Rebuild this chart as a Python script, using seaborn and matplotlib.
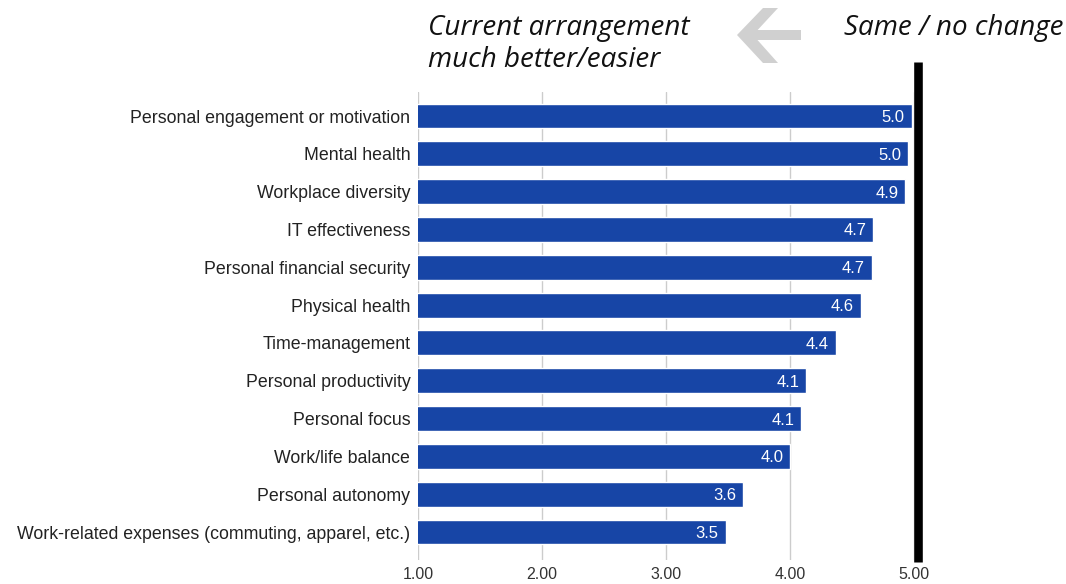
import matplotlib
matplotlib.use("Agg")
import matplotlib.pyplot as plt
import matplotlib.transforms as mtransforms
import seaborn as sns
import pandas as pd
from matplotlib.lines import Line2D
from matplotlib.patches import Polygon

categories = [
    "Personal engagement or motivation",
    "Mental health",
    "Workplace diversity",
    "IT effectiveness",
    "Personal financial security",
    "Physical health",
    "Time-management",
    "Personal productivity",
    "Personal focus",
    "Work/life balance",
    "Personal autonomy",
    "Work-related expenses (commuting, apparel, etc.)",
]
scores = [4.98, 4.95, 4.93, 4.67, 4.66, 4.57, 4.37, 4.13, 4.09, 4.00, 3.62, 3.48]
x_ticks = [1.0, 2.0, 3.0, 4.0, 5.0]

df = pd.DataFrame({"category": categories, "score": scores})

sns.set_theme(style="white")
plt.rcParams["font.family"] = ["Liberation Sans", "DejaVu Sans"]

W, H = 1066, 584
fig = plt.figure(figsize=(W / 100, H / 100), dpi=100)
ax = fig.add_axes([418 / W, 1 - 560 / H, (914 - 418) / W, (560 - 92) / H])

bar_color = "#1745A6"
sns.barplot(data=df, x="score", y="category", orient="h", color=bar_color,
            saturation=1, width=0.66, ax=ax, zorder=2)

ax.set_xlim(1, 5)
ax.set_ylim(11.74, -0.635)
ax.set_xticks(x_ticks)
ax.set_xticklabels([f"{t:.2f}" for t in x_ticks], fontsize=11.5, color="#333333")
ax.tick_params(axis="x", length=0, pad=5)
ax.tick_params(axis="y", length=0, pad=5.5, labelsize=12.8, labelcolor="#222222")
ax.set_xlabel("")
ax.set_ylabel("")
for s in ax.spines.values():
    s.set_visible(False)

ax.xaxis.grid(True, color="#cccccc", linewidth=1, zorder=0)
ax.set_axisbelow(True)

# value labels inside the bar ends
for i, v in enumerate(scores):
    ax.text(v - 0.055, i, f"{v:.1f}", ha="right", va="center_baseline",
            color="white", fontsize=12, zorder=3)

# reference line at "same / no change"
shift = mtransforms.ScaledTranslation(3.5 / 100, 0, fig.dpi_scale_trans)
ax.add_line(Line2D([5.0, 5.0], [-0.004, 1.064],
                   transform=ax.get_xaxis_transform() + shift,
                   color="black", linewidth=6.2, clip_on=False, zorder=4,
                   solid_capstyle="butt"))

# header annotations
head_font = dict(style="italic", weight="normal", family=["Open Sans", "DejaVu Sans"],
                 color="#111111", fontsize=20)
fig.text(428 / W, 1 - 44 / H, "Current arrangement\nmuch better/easier",
         ha="left", va="center", linespacing=1.15, **head_font)
fig.text(1063 / W, 1 - 28 / H, "Same / no change",
         ha="right", va="center", **head_font)

# light grey left-pointing arrow between the two headers (pixel coords, y down)
px = mtransforms.Affine2D().scale(1 / W, -1 / H).translate(0, 1) + fig.transFigure
arrow_color = "#d0d0d0"
shaft = [(750, 30), (801, 30), (801, 40), (750, 40)]
chevron = [(737, 35), (763, 8), (778, 8), (753, 35), (778, 63), (763, 63)]
for pts in (shaft, chevron):
    fig.add_artist(Polygon(pts, closed=True, transform=px,
                           facecolor=arrow_color, edgecolor="none"))

fig.savefig("out.png", dpi=100)
